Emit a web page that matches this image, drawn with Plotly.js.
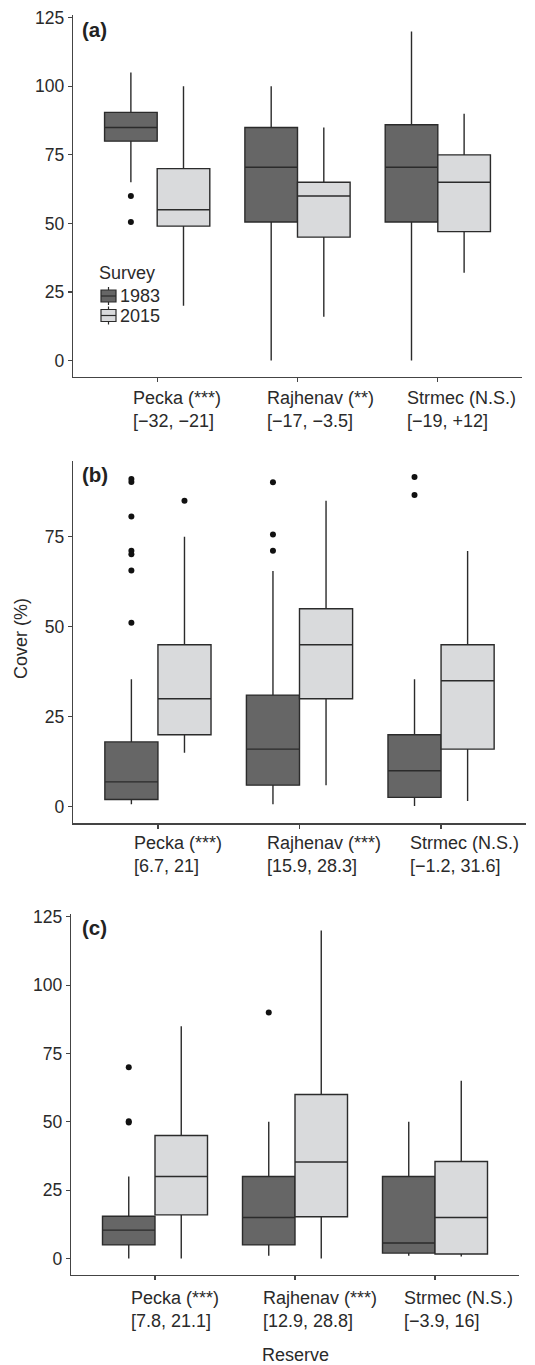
<!DOCTYPE html>
<html>
<head>
<meta charset="utf-8">
<script src="https://cdn.plot.ly/plotly-3.0.1.min.js"></script>
<style>html,body{margin:0;padding:0;background:#fff;}#chart{width:535px;height:1365px;}</style>
</head>
<body>
<div id="chart"></div>
<script>
// ---- Data ----
const reserves = ["Pecka", "Rajhenav", "Strmec"];
const surveys = ["1983", "2015"];

const ticksA = ["Pecka (***)<br>[\u221232, \u221221]", "Rajhenav (**)<br>[\u221217, \u22123.5]", "Strmec (N.S.)<br>[\u221219, +12]"];
const ticksB = ["Pecka (***)<br>[6.7, 21]", "Rajhenav (***)<br>[15.9, 28.3]", "Strmec (N.S.)<br>[\u22121.2, 31.6]"];
const ticksC = ["Pecka (***)<br>[7.8, 21.1]", "Rajhenav (***)<br>[12.9, 28.8]", "Strmec (N.S.)<br>[\u22123.9, 16]"];

// Panel (a)
const a1983_low = [65, 0, 0];
const a1983_q1 = [80, 50.5, 50.5];
const a1983_med = [85, 70.5, 70.5];
const a1983_q3 = [90.5, 85, 86];
const a1983_high = [105, 100, 120];
const a2015_low = [20, 16, 32];
const a2015_q1 = [49, 45, 47];
const a2015_med = [55, 60, 65];
const a2015_q3 = [70, 65, 75];
const a2015_high = [100, 85, 90];
const a1983_out_res = [0, 0];
const a1983_out_val = [60, 50.5];
const a2015_out_res = [];
const a2015_out_val = [];

// Panel (b)
const b1983_low = [0.7, 0.7, 0.2];
const b1983_q1 = [2, 6, 2.6];
const b1983_med = [6.9, 16, 10];
const b1983_q3 = [18, 31, 20];
const b1983_high = [35.4, 65.5, 35.4];
const b2015_low = [15, 6, 1.6];
const b2015_q1 = [20, 30, 16];
const b2015_med = [30, 45, 35];
const b2015_q3 = [45, 55, 45];
const b2015_high = [75, 85, 71];
const b1983_out_res = [0, 0, 0, 0, 0, 0, 0, 1, 1, 1, 2, 2];
const b1983_out_val = [91, 90.2, 80.6, 71.1, 70.1, 65.6, 51.1, 90.1, 75.6, 71.1, 91.6, 86.6];
const b2015_out_res = [0];
const b2015_out_val = [85];

// Panel (c)
const c1983_low = [0, 1, 1];
const c1983_q1 = [5, 5, 2];
const c1983_med = [10.4, 15, 5.7];
const c1983_q3 = [15.5, 30, 30];
const c1983_high = [30, 50, 50];
const c2015_low = [0, 0, 0.8];
const c2015_q1 = [16, 15.3, 1.7];
const c2015_med = [30, 35.3, 15];
const c2015_q3 = [45, 60, 35.5];
const c2015_high = [85, 120, 65];
const c1983_out_res = [0, 0, 0, 1];
const c1983_out_val = [70, 50.2, 49.8, 90];
const c2015_out_res = [];
const c2015_out_val = [];

// ---- Styling ----
const FILL = {"1983": "#666666", "2015": "#d9dadc"};
const LINE = "#2b2b2b";
const DODGE = 0.1875, BOXW = 0.375;
const FONT = "Liberation Sans, Arial, sans-serif";
const TXT = "#2a2a2a";
const W = 535, H = 1365;

const traces = [];
function pos(idx, s) { return idx + 1 + (s === "1983" ? -DODGE : DODGE); }

function addPanel(ax, sets) {
  const xa = ax === 1 ? "x" : "x" + ax;
  const ya = ax === 1 ? "y" : "y" + ax;
  surveys.forEach((s) => {
    const d = sets[s];
    traces.push({
      type: "box", name: s, showlegend: false,
      x: reserves.map((r, i) => pos(i, s)),
      q1: d.q1, median: d.med, q3: d.q3, lowerfence: d.low, upperfence: d.high,
      width: BOXW, whiskerwidth: 0, boxpoints: false,
      fillcolor: FILL[s], line: {color: LINE, width: 1.4},
      xaxis: xa, yaxis: ya, hoverinfo: "skip"
    });
    traces.push({
      type: "scatter", mode: "markers", showlegend: false,
      x: d.outRes.map(i => pos(i, s)), y: d.outVal,
      marker: {color: "#111111", size: 6},
      xaxis: xa, yaxis: ya, hoverinfo: "skip"
    });
  });
}

addPanel(1, {
  "1983": {low: a1983_low, q1: a1983_q1, med: a1983_med, q3: a1983_q3, high: a1983_high, outRes: a1983_out_res, outVal: a1983_out_val},
  "2015": {low: a2015_low, q1: a2015_q1, med: a2015_med, q3: a2015_q3, high: a2015_high, outRes: a2015_out_res, outVal: a2015_out_val}
});
addPanel(2, {
  "1983": {low: b1983_low, q1: b1983_q1, med: b1983_med, q3: b1983_q3, high: b1983_high, outRes: b1983_out_res, outVal: b1983_out_val},
  "2015": {low: b2015_low, q1: b2015_q1, med: b2015_med, q3: b2015_q3, high: b2015_high, outRes: b2015_out_res, outVal: b2015_out_val}
});
addPanel(3, {
  "1983": {low: c1983_low, q1: c1983_q1, med: c1983_med, q3: c1983_q3, high: c1983_high, outRes: c1983_out_res, outVal: c1983_out_val},
  "2015": {low: c2015_low, q1: c2015_q1, med: c2015_med, q3: c2015_q3, high: c2015_high, outRes: c2015_out_res, outVal: c2015_out_val}
});

function xaxis(l, r, anchor) {
  return {
    domain: [l / W, r / W], range: [0.4, 3.6], anchor: anchor,
    tickmode: "array", tickvals: [1, 2, 3], showticklabels: false,
    ticks: "outside", ticklen: 4, tickcolor: "#444", tickwidth: 1.2,
    showline: true, linecolor: "#444", linewidth: 1.3,
    showgrid: false, zeroline: false, fixedrange: true
  };
}
function yaxis(top, bottom, range, tickvals, anchor) {
  return {
    domain: [1 - bottom / H, 1 - top / H], range: range, anchor: anchor,
    tickmode: "array", tickvals: tickvals,
    ticks: "outside", ticklen: 4, tickcolor: "#444", tickwidth: 1.2,
    showline: true, linecolor: "#444", linewidth: 1.3,
    showgrid: false, zeroline: false,
    tickfont: {family: FONT, size: 17.5, color: TXT}, fixedrange: true
  };
}

// category labels: two left-aligned lines, block placed with hjust 0.3 like the original
const LABEL_SIZE = 18;
const ctx = document.createElement("canvas").getContext("2d");
ctx.font = LABEL_SIZE + "px 'Liberation Sans'";
function blockWidth(t) {
  return Math.max(...t.split("<br>").map(s => ctx.measureText(s).width));
}
const annotations = [];
function addLabels(texts, xref, axisBottomPx, shift) {
  texts.forEach((t, i) => {
    annotations.push({
      text: t, xref: xref, yref: "paper", x: i + 1, y: 1 - axisBottomPx / H,
      xanchor: "left", yanchor: "top", align: "left",
      xshift: -0.3 * blockWidth(t), yshift: shift,
      showarrow: false, font: {family: FONT, size: LABEL_SIZE, color: TXT}
    });
  });
}
addLabels(ticksA, "x", 377, -8.5);
addLabels(ticksB, "x2", 823.3, -7.5);
addLabels(ticksC, "x3", 1275, -10.5);

// panel tags and axis titles
[["(a)", 29], ["(b)", 474], ["(c)", 927]].forEach(([t, yp]) => {
  annotations.push({text: "<b>" + t + "</b>", xref: "paper", yref: "paper", x: 80 / W, y: 1 - yp / H,
    xanchor: "left", yanchor: "middle", showarrow: false, font: {family: FONT, size: 20.5, color: "#222"}});
});
annotations.push({text: "Cover (%)", xref: "paper", yref: "paper", x: 21 / W, y: 1 - 639 / H,
  xanchor: "center", yanchor: "middle", textangle: -90, showarrow: false, font: {family: FONT, size: 18, color: TXT}});
annotations.push({text: "Reserve", xref: "paper", yref: "paper", x: 295 / W, y: 1 - 1355 / H,
  xanchor: "center", yanchor: "middle", showarrow: false, font: {family: FONT, size: 18, color: TXT}});

// legend (key drawn like ggplot's boxplot key)
const shapes = [];
annotations.push({text: "Survey", xref: "paper", yref: "paper", x: 97 / W, y: 1 - 273 / H,
  xanchor: "left", yanchor: "middle", showarrow: false, font: {family: FONT, size: 18, color: TXT}});
surveys.forEach((s, i) => {
  const yc = 296 + 19.5 * i, x0 = 101, x1 = 116, xc = (x0 + x1) / 2;
  shapes.push({type: "line", xref: "paper", yref: "paper", x0: xc / W, x1: xc / W, y0: 1 - (yc - 9) / H, y1: 1 - (yc + 9) / H, line: {color: LINE, width: 1.2}});
  shapes.push({type: "rect", xref: "paper", yref: "paper", x0: x0 / W, x1: x1 / W, y0: 1 - (yc - 6) / H, y1: 1 - (yc + 6) / H, fillcolor: FILL[s], line: {color: LINE, width: 1.2}});
  shapes.push({type: "line", xref: "paper", yref: "paper", x0: x0 / W, x1: x1 / W, y0: 1 - yc / H, y1: 1 - yc / H, line: {color: LINE, width: 1.2}});
  annotations.push({text: s, xref: "paper", yref: "paper", x: (x1 + 2) / W, y: 1 - yc / H,
    xanchor: "left", yanchor: "middle", showarrow: false, font: {family: FONT, size: 18, color: TXT}});
});

const layout = {
  width: W, height: H,
  margin: {l: 0, r: 0, t: 0, b: 0},
  paper_bgcolor: "#ffffff", plot_bgcolor: "#ffffff",
  showlegend: false,
  font: {family: FONT, color: TXT},
  xaxis: xaxis(73, 522, "y"),
  yaxis: yaxis(15, 377, [-6, 126], [0, 25, 50, 75, 100, 125], "x"),
  xaxis2: xaxis(73, 526, "y2"),
  yaxis2: yaxis(460.7, 823.3, [-4.6, 96.1], [0, 25, 50, 75], "x2"),
  xaxis3: xaxis(71, 519, "y3"),
  yaxis3: yaxis(914, 1275, [-6, 126], [0, 25, 50, 75, 100, 125], "x3"),
  annotations: annotations,
  shapes: shapes
};

Plotly.newPlot("chart", traces, layout, {displayModeBar: false, staticPlot: true});
</script>
</body>
</html>
